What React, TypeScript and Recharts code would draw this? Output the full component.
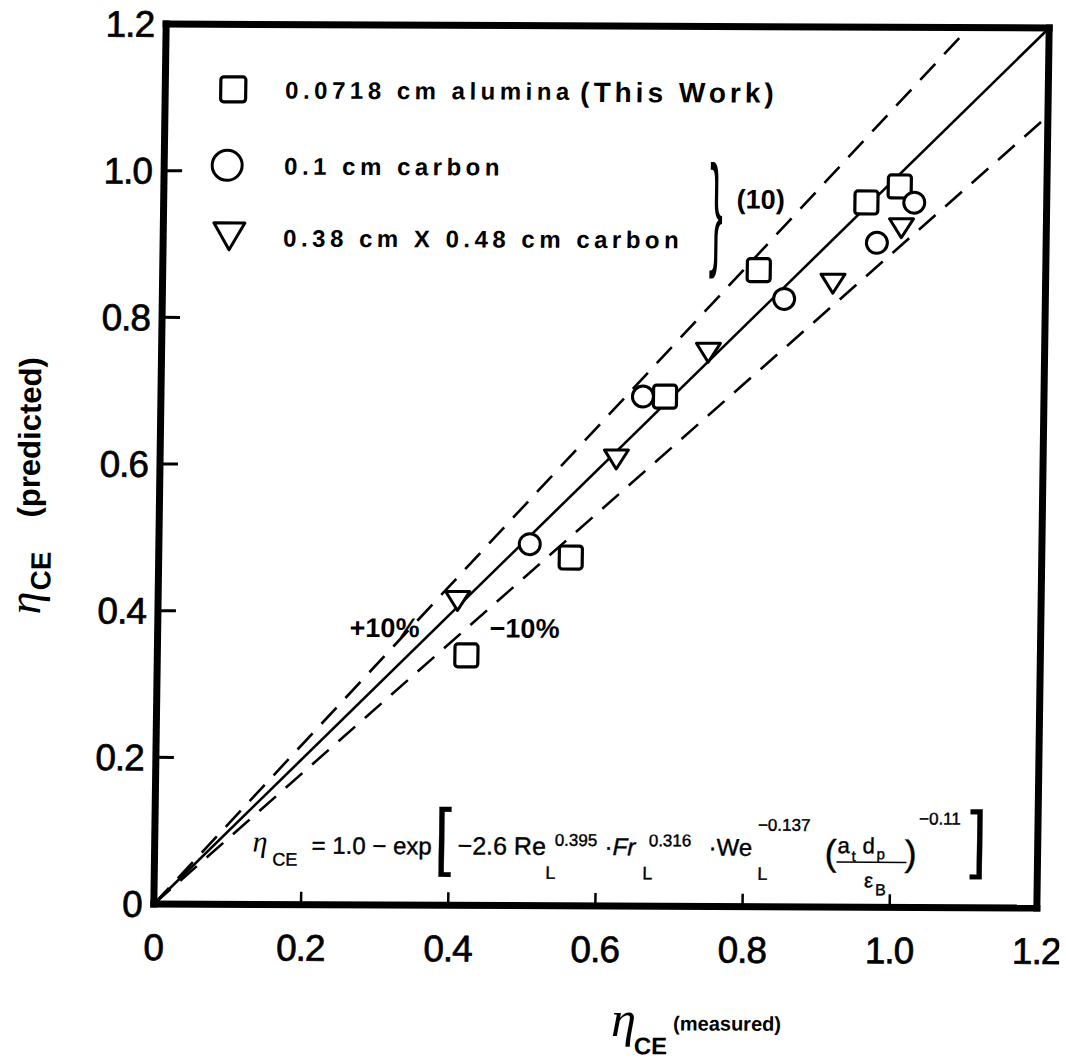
import React from 'react';
import { ComposedChart, Scatter, XAxis, YAxis, Customized } from 'recharts';

// ---- data ----
const axisTicks = [0, 0.2, 0.4, 0.6, 0.8, 1.0, 1.2];
const xTickLabels = ['0', '0.2', '0.4', '0.6', '0.8', '1.0', '1.2'];
const yTickLabels = ['0', '0.2', '0.4', '0.6', '0.8', '1.0', '1.2'];
const axisMax = 1.2;

const aluminaMeasured = [0.42, 0.56, 0.685, 0.81, 0.955, 1.0];
const aluminaPredicted = [0.341, 0.475, 0.695, 0.868, 0.961, 0.983];
const carbonMeasured = [0.504, 0.655, 0.845, 0.97, 1.02];
const carbonPredicted = [0.493, 0.695, 0.829, 0.906, 0.961];
const pelletMeasured = [0.407, 0.62, 0.743, 0.911, 1.003];
const pelletPredicted = [0.415, 0.609, 0.755, 0.85, 0.926];

const parityRatios = [1.0, 1.1, 0.9];

const legendLabels = ['0.0718 cm alumina', '0.1 cm carbon', '0.38 cm X 0.48 cm carbon'];

const toPoints = (xs: number[], ys: number[]) => xs.map((x, i) => ({ x, y: ys[i] }));
const parityLine = (r: number) => {
  const xEnd = Math.min(axisMax, axisMax / r);
  return [{ x: 0, y: 0 }, { x: xEnd, y: xEnd * r }];
};

const SANS = 'Liberation Sans, Arial, Helvetica, sans-serif';
const SERIF = 'Liberation Serif, Times New Roman, serif';
const INK = '#000';

// ---- markers ----
const SquareMark = ({ cx, cy, s = 23 }: any) => (
  <rect x={cx - s / 2} y={cy - s / 2} width={s} height={s} rx={3} fill="#fff" stroke={INK} strokeWidth={3.2} />
);
const CircleMark = ({ cx, cy, r = 10.5 }: any) => (
  <circle cx={cx} cy={cy} r={r} fill="#fff" stroke={INK} strokeWidth={3} />
);
const TriangleMark = ({ cx, cy, w = 24, h = 19 }: any) => (
  <path
    d={`M${cx - w / 2},${cy - h / 2} L${cx + w / 2},${cy - h / 2} L${cx},${cy + h / 2} Z`}
    fill="#fff"
    stroke={INK}
    strokeWidth={3}
    strokeLinejoin="round"
  />
);

// ---- ticks ----
const labelFor = (labels: string[], v: number) => labels[axisTicks.indexOf(v)] ?? String(v);
const tickText = { fontSize: 37, fontFamily: SANS, fill: INK, stroke: INK, strokeWidth: 0.7, letterSpacing: -1 } as any;

const BottomTick = (props: any) => {
  const { x, y, payload } = props;
  return (
    <g>
      <line x1={x} y1={y} x2={x} y2={y - 13} stroke={INK} strokeWidth={2.5} />
      <text x={x} y={y + 56} textAnchor="middle" {...tickText}>
        {labelFor(xTickLabels, payload.value)}
      </text>
    </g>
  );
};
const LeftTick = (props: any) => {
  const { x, y, payload } = props;
  return (
    <g>
      <line x1={x} y1={y} x2={x + 18} y2={y} stroke={INK} strokeWidth={3} />
      <text x={x - 12} y={y + 13} textAnchor="end" {...tickText}>
        {labelFor(yTickLabels, payload.value)}
      </text>
    </g>
  );
};
const TopTick = (props: any) => {
  const { x, y } = props;
  return <line x1={x} y1={y} x2={x} y2={y + 16} stroke={INK} strokeWidth={2.5} />;
};
const RightTick = (props: any) => {
  const { x, y } = props;
  return <line x1={x} y1={y} x2={x - 16} y2={y} stroke={INK} strokeWidth={3} />;
};

// ---- annotations (legend, formula, titles) ----
const Annotations = () => {
  const legendText = { fontSize: 24, fontWeight: 700, fontFamily: SANS, letterSpacing: 4.5, fill: INK } as any;
  const f = { fontFamily: SANS, fill: INK, stroke: INK, strokeWidth: 0.4 } as any;
  return (
    <g>
      {/* legend */}
      <SquareMark cx={228} cy={91} s={25} />
      <CircleMark cx={223} cy={167} r={15} />
      <TriangleMark cx={226} cy={238} w={31} h={27} />
      <text x={280} y={100} {...legendText}>{legendLabels[0]}</text>
      <text x={280} y={176} {...legendText}>{legendLabels[1]}</text>
      <text x={280} y={248} {...legendText}>{legendLabels[2]}</text>
      <text x={575} y={102} fontSize={28} fontWeight={700} fontFamily={SANS} letterSpacing={4} fill={INK}>(This Work)</text>
      <text x={0} y={0} fontSize={125} fontFamily={SANS} fill={INK} transform="translate(706,252) scale(0.32,1)">{'}'}</text>
      <text x={733} y={208} fontSize={27} fontWeight={700} fontFamily={SANS} fill={INK}>(10)</text>

      {/* +/-10% */}
      <text x={352} y={638} fontSize={27} fontWeight={700} fontFamily={SANS} fill={INK}>+10%</text>
      <text x={492} y={638} fontSize={27} fontWeight={700} fontFamily={SANS} fill={INK}>−10%</text>

      {/* correlation */}
      <text x={258} y={853} fontSize={30} fontStyle="italic" fontFamily={SERIF} fill={INK}>η</text>
      <text x={278} y={867} fontSize={18} {...f}>CE</text>
      <text x={317} y={855} fontSize={24} {...f}>= 1.0 − exp</text>
      <text x={0} y={0} fontSize={75} {...f} transform="translate(440,862) scale(0.8,1)">[</text>
      <text x={463} y={855} fontSize={25} {...f}>−2.6 Re</text>
      <text x={551} y={879} fontSize={18} {...f}>L</text>
      <text x={560} y={846} fontSize={17} {...f}>0.395</text>
      <text x={610} y={855} fontSize={24} {...f}>·<tspan fontStyle="italic">Fr</tspan></text>
      <text x={648} y={879} fontSize={18} {...f}>L</text>
      <text x={654} y={846} fontSize={17} {...f}>0.316</text>
      <text x={714} y={855} fontSize={24} {...f}>·We</text>
      <text x={763} y={879} fontSize={18} {...f}>L</text>
      <text x={763} y={830} fontSize={17} {...f}>−0.137</text>
      <text x={830} y={864} fontSize={36} {...f}>(</text>
      <text x={843} y={852} fontSize={22} {...f}>a</text>
      <text x={857} y={860} fontSize={15} {...f}>t</text>
      <text x={868} y={852} fontSize={22} {...f}>d</text>
      <text x={882} y={858} fontSize={15} {...f}>p</text>
      <line x1={842} y1={861} x2={912} y2={861} stroke={INK} strokeWidth={1.5} />
      <text x={870} y={886} fontSize={20} {...f}>ε</text>
      <text x={881} y={894} fontSize={16} {...f}>B</text>
      <text x={910} y={864} fontSize={36} {...f}>)</text>
      <text x={924} y={823} fontSize={17} {...f}>−0.11</text>
      <text x={0} y={0} fontSize={75} {...f} transform="translate(975,862) scale(0.8,1)">]</text>

      {/* x axis title */}
      <text x={619} y={1036} fontSize={50} fontStyle="italic" fontFamily={SERIF} fill={INK}>η</text>
      <text x={642} y={1054} fontSize={24} fontWeight={700} fontFamily={SANS} fill={INK}>CE</text>
      <text x={681} y={1030} fontSize={20} fontWeight={700} fontFamily={SANS} fill={INK}>(measured)</text>

      {/* y axis title */}
      <text x={-617} y={42} fontSize={46} fontStyle="italic" fontFamily={SERIF} fill={INK} transform="rotate(-90)">η</text>
      <text x={-593} y={52} fontSize={28} fontWeight={700} fontFamily={SANS} fill={INK} transform="rotate(-90)">CE</text>
      <text x={-520} y={40} fontSize={31} fontWeight={700} fontFamily={SANS} fill={INK} transform="rotate(-90)">(predicted)</text>
    </g>
  );
};

const nullShape = () => <g />;

export default function App() {
  const alumina = toPoints(aluminaMeasured, aluminaPredicted);
  const carbon = toPoints(carbonMeasured, carbonPredicted);
  const pellet = toPoints(pelletMeasured, pelletPredicted);
  const axisLine = { stroke: INK, strokeWidth: 7, strokeLinecap: 'square' } as any;
  return (
    <div
      style={{
        position: 'absolute',
        left: 0,
        top: 0,
        width: 1066,
        height: 1059,
        background: '#fff',
        transform: 'matrix(1, 0.0045, -0.0140, 1, 0, 0)',
        transformOrigin: '601px 466px',
      }}
    >
      <ComposedChart width={1066} height={1059} margin={{ top: 25, right: 22, bottom: 0, left: 0 }}>
        <XAxis
          xAxisId="b"
          type="number"
          dataKey="x"
          domain={[0, axisMax]}
          ticks={axisTicks}
          interval={0}
          height={153}
          axisLine={axisLine}
          tickLine={false}
          tickSize={0}
          tickMargin={0}
          tick={<BottomTick />}
        />
        <XAxis
          xAxisId="t"
          orientation="top"
          type="number"
          dataKey="x"
          domain={[0, axisMax]}
          ticks={axisTicks}
          interval={0}
          height={1}
          axisLine={axisLine}
          tickLine={false}
          tickSize={0}
          tickMargin={0}
          tick={<TopTick />}
        />
        <YAxis
          yAxisId="l"
          type="number"
          dataKey="y"
          domain={[0, axisMax]}
          ticks={axisTicks}
          interval={0}
          width={160}
          axisLine={axisLine}
          tickLine={false}
          tickSize={0}
          tickMargin={0}
          tick={<LeftTick />}
        />
        <YAxis
          yAxisId="r"
          orientation="right"
          type="number"
          dataKey="y"
          domain={[0, axisMax]}
          ticks={axisTicks}
          interval={0}
          width={1}
          axisLine={axisLine}
          tickLine={false}
          tickSize={0}
          tickMargin={0}
          tick={<RightTick />}
        />
        {parityRatios.map((r) => (
          <Scatter
            key={`parity-${r}`}
            xAxisId="b"
            yAxisId="l"
            data={parityLine(r)}
            line={{ stroke: INK, strokeWidth: 2.6, strokeDasharray: r === 1 ? undefined : '22 13' }}
            lineType="joint"
            shape={nullShape}
            isAnimationActive={false}
          />
        ))}
        <Scatter xAxisId="b" yAxisId="l" data={alumina} shape={(p: any) => <SquareMark cx={p.cx} cy={p.cy} />} isAnimationActive={false} />
        <Scatter xAxisId="b" yAxisId="l" data={carbon} shape={(p: any) => <CircleMark cx={p.cx} cy={p.cy} />} isAnimationActive={false} />
        <Scatter xAxisId="b" yAxisId="l" data={pellet} shape={(p: any) => <TriangleMark cx={p.cx} cy={p.cy} />} isAnimationActive={false} />
        <Customized component={Annotations} />
      </ComposedChart>
    </div>
  );
}
